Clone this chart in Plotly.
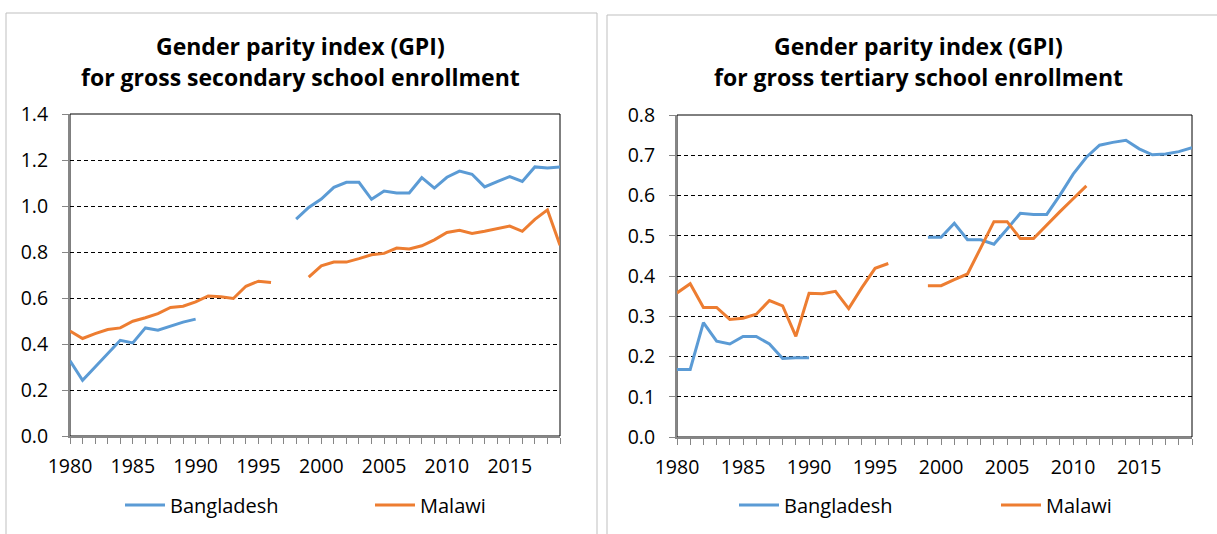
import plotly.graph_objects as go

# Years on the category axis
years = list(range(1980, 2020))

# Secondary enrollment GPI (None = no data)
bgd_secondary = [0.327, 0.242, 0.30, 0.358, 0.416, 0.405, 0.47, 0.46, 0.477, 0.495, 0.508,
                 None, None, None, None, None, None, None,
                 0.943, 0.994, 1.030, 1.081, 1.103, 1.103, 1.029, 1.065, 1.057, 1.057,
                 1.123, 1.078, 1.125, 1.152, 1.138, 1.083, 1.106, 1.128, 1.107, 1.170,
                 1.165, 1.170]
mwi_secondary = [0.456, 0.424, 0.445, 0.463, 0.470, 0.499, 0.514, 0.532, 0.559, 0.564, 0.583,
                 0.609, 0.605, 0.598, 0.651, 0.673, 0.667, None, None,
                 0.691, 0.740, 0.756, 0.756, 0.771, 0.788, 0.794, 0.817, 0.813, 0.827,
                 0.853, 0.885, 0.894, 0.881, 0.890, 0.900, 0.913, 0.890, 0.942, 0.983,
                 0.829]

# Tertiary enrollment GPI
bgd_tertiary = [0.168, 0.168, 0.284, 0.238, 0.231, 0.250, 0.250, 0.231, 0.195, 0.197, 0.197,
                None, None, None, None, None, None, None, None,
                0.496, 0.496, 0.531, 0.490, 0.490, 0.479, 0.517, 0.556, 0.553, 0.553,
                0.601, 0.653, 0.695, 0.725, 0.732, 0.737, 0.716, 0.701, 0.703, 0.709,
                0.719]
mwi_tertiary = [0.358, 0.381, 0.322, 0.322, 0.292, 0.295, 0.305, 0.339, 0.326, 0.250, 0.357,
                0.356, 0.362, 0.319, 0.371, 0.419, 0.431, None, None,
                0.376, 0.376, 0.391, 0.405, 0.470, 0.535, 0.535, 0.493, 0.493, 0.527,
                0.560, 0.592, 0.624,
                None, None, None, None, None, None, None, None]

titles = [["Gender parity index (GPI)", "for gross secondary school enrollment"],
          ["Gender parity index (GPI)", "for gross tertiary school enrollment"]]

W, H = 1217, 534
BLUE = "#5B9BD5"
ORANGE = "#ED7D31"
FONT = "Open Sans"


def px(x):
    return x / W


def py(y):
    return (H - y) / H


fig = go.Figure()

# left chart
fig.add_trace(go.Scatter(x=years, y=bgd_secondary, name="Bangladesh", mode="lines",
                         line=dict(color=BLUE, width=3), xaxis="x", yaxis="y",
                         legend="legend"))
fig.add_trace(go.Scatter(x=years, y=mwi_secondary, name="Malawi", mode="lines",
                         line=dict(color=ORANGE, width=3), xaxis="x", yaxis="y",
                         legend="legend"))
# right chart
fig.add_trace(go.Scatter(x=years, y=bgd_tertiary, name="Bangladesh", mode="lines",
                         line=dict(color=BLUE, width=3), xaxis="x2", yaxis="y2",
                         legend="legend2"))
fig.add_trace(go.Scatter(x=years, y=mwi_tertiary, name="Malawi", mode="lines",
                         line=dict(color=ORANGE, width=3), xaxis="x2", yaxis="y2",
                         legend="legend2"))

xcommon = dict(range=[1980, 2019], tick0=1980, dtick=5, ticks="outside", ticklen=6,
               tickcolor="#868686", showline=True, linecolor="#868686", linewidth=2,
               showgrid=False, zeroline=False, ticklabelstandoff=6, automargin=False,
               minor=dict(dtick=1, ticks="outside", ticklen=6, tickcolor="#868686"),
               tickfont=dict(family=FONT, size=19.5, color="#000"))
ycommon = dict(ticks="outside", ticklen=6, tickcolor="#868686", showline=True,
               linecolor="#868686", linewidth=2, zeroline=False, tickformat=".1f",
               showgrid=True, gridcolor="#000", gridwidth=1, griddash="4px,3px",
               ticklabelstandoff=10, automargin=False,
               tickfont=dict(family=FONT, size=19.5, color="#000"))

legcommon = dict(orientation="h", xanchor="left", yanchor="middle",
                 font=dict(family=FONT, size=20, color="#000"),
                 bgcolor="rgba(0,0,0,0)", entrywidthmode="pixels",
                 itemwidth=40, tracegroupgap=0)

fig.update_layout(
    width=W, height=H,
    margin=dict(l=0, r=0, t=0, b=0, autoexpand=False),
    paper_bgcolor="white", plot_bgcolor="white",
    showlegend=True,
    xaxis=dict(domain=[px(70), px(560)], anchor="y", **xcommon),
    yaxis=dict(domain=[py(436), py(114)], anchor="x", range=[0, 1.4], dtick=0.2, **ycommon),
    xaxis2=dict(domain=[px(677), px(1192)], anchor="y2", **xcommon),
    yaxis2=dict(domain=[py(437), py(115)], anchor="x2", range=[0, 0.8], dtick=0.1, **ycommon),
    legend=dict(x=px(120), y=py(505), entrywidth=195, **legcommon),
    legend2=dict(x=px(734), y=py(505), entrywidth=207, **legcommon),
)

# plot area frames
for xr, yr in [("x domain", "y domain"), ("x2 domain", "y2 domain")]:
    fig.add_shape(type="rect", xref=xr, yref=yr, x0=0, x1=1, y0=0, y1=1,
                  line=dict(color="#000", width=1), layer="below")

# chart panel borders
fig.add_shape(type="rect", xref="paper", yref="paper", x0=px(6), x1=px(597),
              y0=-0.1, y1=py(13), line=dict(color="#BFBFBF", width=1), layer="below")
fig.add_shape(type="rect", xref="paper", yref="paper", x0=px(607), x1=1.05,
              y0=-0.1, y1=py(15), line=dict(color="#BFBFBF", width=1), layer="below")

# titles
for cx, lines in zip([300, 918], titles):
    for ly, text in zip([46, 77], lines):
        fig.add_annotation(x=px(cx), y=py(ly), xref="paper", yref="paper",
                           text=f"<b>{text}</b>", showarrow=False,
                           xanchor="center", yanchor="middle",
                           font=dict(family=FONT, size=23, color="#000"))

# drop the default page margin so the figure sits at the window's corner
fig.write_html("out.html", config={"displayModeBar": False},
               post_script="document.body.style.margin='0';")
